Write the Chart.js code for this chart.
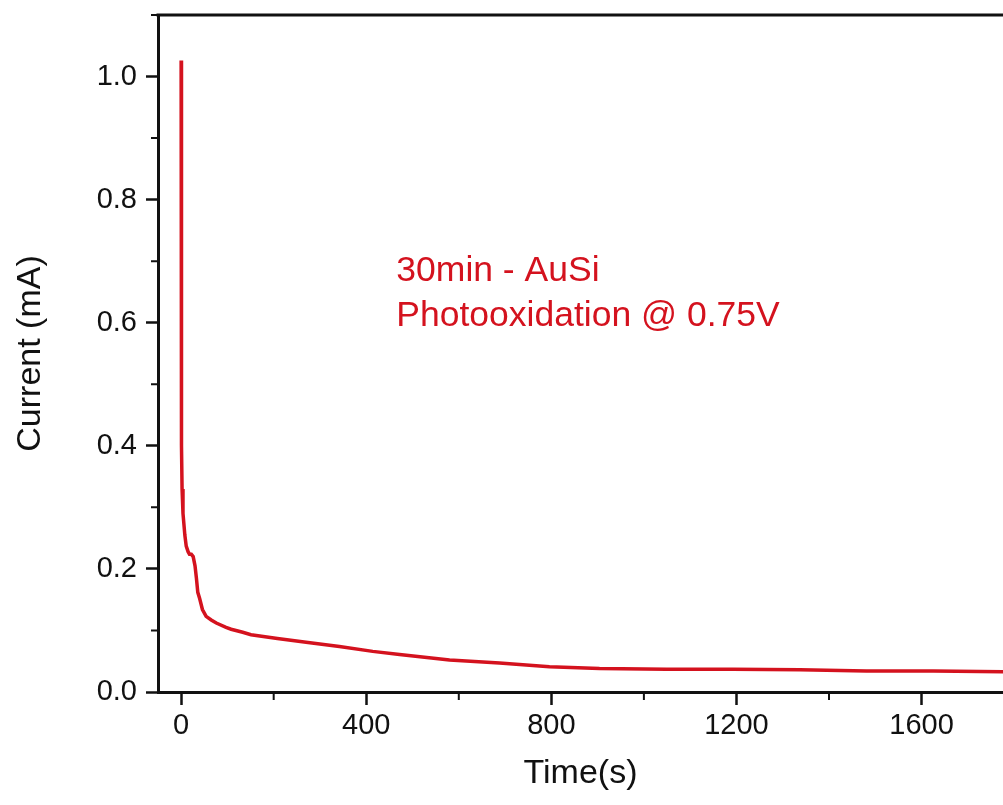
<!DOCTYPE html>
<html>
<head>
<meta charset="utf-8">
<script src="https://cdn.jsdelivr.net/npm/chart.js@4.4.1/dist/chart.umd.min.js"></script>
<style>
  html, body { margin: 0; padding: 0; background: #ffffff; overflow: hidden; }
  #wrap { width: 1003px; height: 805px; }
</style>
</head>
<body>
<div id="wrap"><canvas id="c" width="1003" height="805"></canvas></div>
<script>
// ---- Data ----
const timeSeconds = [0, 0.5, 1, 2, 4, 8, 11, 15, 18, 22, 26, 30, 33, 36, 40, 46, 54, 65, 76, 97, 108, 133, 151, 208, 270, 342, 414, 472, 580, 688, 796, 904, 1049, 1192, 1337, 1481, 1625, 1776];
const currentMA   = [1.026, 0.55, 0.40, 0.33, 0.29, 0.255, 0.237, 0.228, 0.224, 0.224, 0.220, 0.205, 0.185, 0.162, 0.152, 0.134, 0.123, 0.117, 0.112, 0.105, 0.102, 0.097, 0.093, 0.087, 0.081, 0.074, 0.066, 0.061, 0.052, 0.047, 0.041, 0.038, 0.037, 0.037, 0.036, 0.034, 0.034, 0.033];

const xTickValues = [0, 400, 800, 1200, 1600];
const xTickLabels = ['0', '400', '800', '1200', '1600'];
const xMinorTicks = [200, 600, 1000, 1400, 1800];
const yTickValues = [0, 0.2, 0.4, 0.6, 0.8, 1.0];
const yTickLabels = ['0.0', '0.2', '0.4', '0.6', '0.8', '1.0'];
const yMinorTicks = [0.1, 0.3, 0.5, 0.7, 0.9, 1.1];

const xAxisTitle = 'Time(s)';
const yAxisTitle = 'Current (mA)';
const noteLines = ['30min - AuSi', 'Photooxidation @ 0.75V'];
const noteAnchor = { x: 465, y: 0.683 };

const RED = '#d4121e';
const INK = '#111111';
const FONT = "'Liberation Sans', Arial, sans-serif";

const framePlugin = {
  id: 'frame',
  afterDraw(chart) {
    const { ctx, chartArea } = chart;
    const xs = chart.scales.x, ys = chart.scales.y;
    ctx.save();
    ctx.strokeStyle = INK;
    ctx.lineWidth = 3;
    ctx.beginPath();
    ctx.moveTo(chartArea.left - 1.5, chartArea.top);
    ctx.lineTo(chartArea.right + 2, chartArea.top);
    ctx.stroke();
    ctx.lineWidth = 2;
    ctx.beginPath();
    xMinorTicks.forEach(v => {
      const px = xs.getPixelForValue(v);
      if (px < chartArea.left || px > chartArea.right) return;
      ctx.moveTo(px, chartArea.bottom);
      ctx.lineTo(px, chartArea.bottom + 8);
    });
    yMinorTicks.forEach(v => {
      const py = ys.getPixelForValue(v);
      if (py < chartArea.top - 1 || py > chartArea.bottom) return;
      ctx.moveTo(chartArea.left, py);
      ctx.lineTo(chartArea.left - 7, py);
    });
    ctx.stroke();
    ctx.fillStyle = RED;
    ctx.font = "35.5px " + FONT;
    ctx.textAlign = 'left';
    ctx.textBaseline = 'middle';
    const ax = xs.getPixelForValue(noteAnchor.x);
    const ay = ys.getPixelForValue(noteAnchor.y);
    noteLines.forEach((t, i) => ctx.fillText(t, ax, ay + i * 45));
    ctx.restore();
  }
};

new Chart(document.getElementById('c'), {
  type: 'line',
  data: {
    datasets: [{
      data: timeSeconds.map((t, i) => ({ x: t, y: currentMA[i] })),
      borderColor: RED,
      borderWidth: 3.5,
      pointRadius: 0,
      tension: 0,
      fill: false
    }]
  },
  options: {
    responsive: false,
    animation: false,
    layout: { padding: { top: 15, right: 0, bottom: 0, left: 0 } },
    plugins: { legend: { display: false }, tooltip: { enabled: false } },
    scales: {
      x: {
        type: 'linear',
        min: -50,
        max: 1776,
        afterBuildTicks(scale) { scale.ticks = xTickValues.map(v => ({ value: v })); },
        afterFit(scale) { scale.height = 113; scale.paddingLeft = 0; scale.paddingRight = 0; },
        ticks: {
          padding: 4,
          color: INK,
          font: { family: FONT, size: 29 },
          maxRotation: 0,
          autoSkip: false,
          callback: (v) => { const i = xTickValues.indexOf(v); return i >= 0 ? xTickLabels[i] : ''; }
        },
        grid: { display: true, drawOnChartArea: false, drawTicks: true, tickLength: 13, tickWidth: 2.5, tickColor: INK },
        border: { display: true, color: INK, width: 3 },
        title: { display: true, text: xAxisTitle, color: INK, font: { family: FONT, size: 34 }, padding: { top: 0, bottom: 11 } }
      },
      y: {
        type: 'linear',
        min: 0,
        max: 1.1,
        afterBuildTicks(scale) { scale.ticks = yTickValues.map(v => ({ value: v })); },
        afterFit(scale) { scale.width = 158; scale.paddingTop = 0; scale.paddingBottom = 0; },
        ticks: {
          padding: 9,
          color: INK,
          font: { family: FONT, size: 29 },
          autoSkip: false,
          callback: (v) => { const i = yTickValues.findIndex(t => Math.abs(t - v) < 1e-9); return i >= 0 ? yTickLabels[i] : ''; }
        },
        grid: { display: true, drawOnChartArea: false, drawTicks: true, tickLength: 12, tickWidth: 2.5, tickColor: INK },
        border: { display: true, color: INK, width: 3 },
        title: { display: true, text: yAxisTitle, color: INK, font: { family: FONT, size: 34 }, padding: { top: 10, bottom: 0 } }
      }
    }
  },
  plugins: [framePlugin]
});
</script>
</body>
</html>
